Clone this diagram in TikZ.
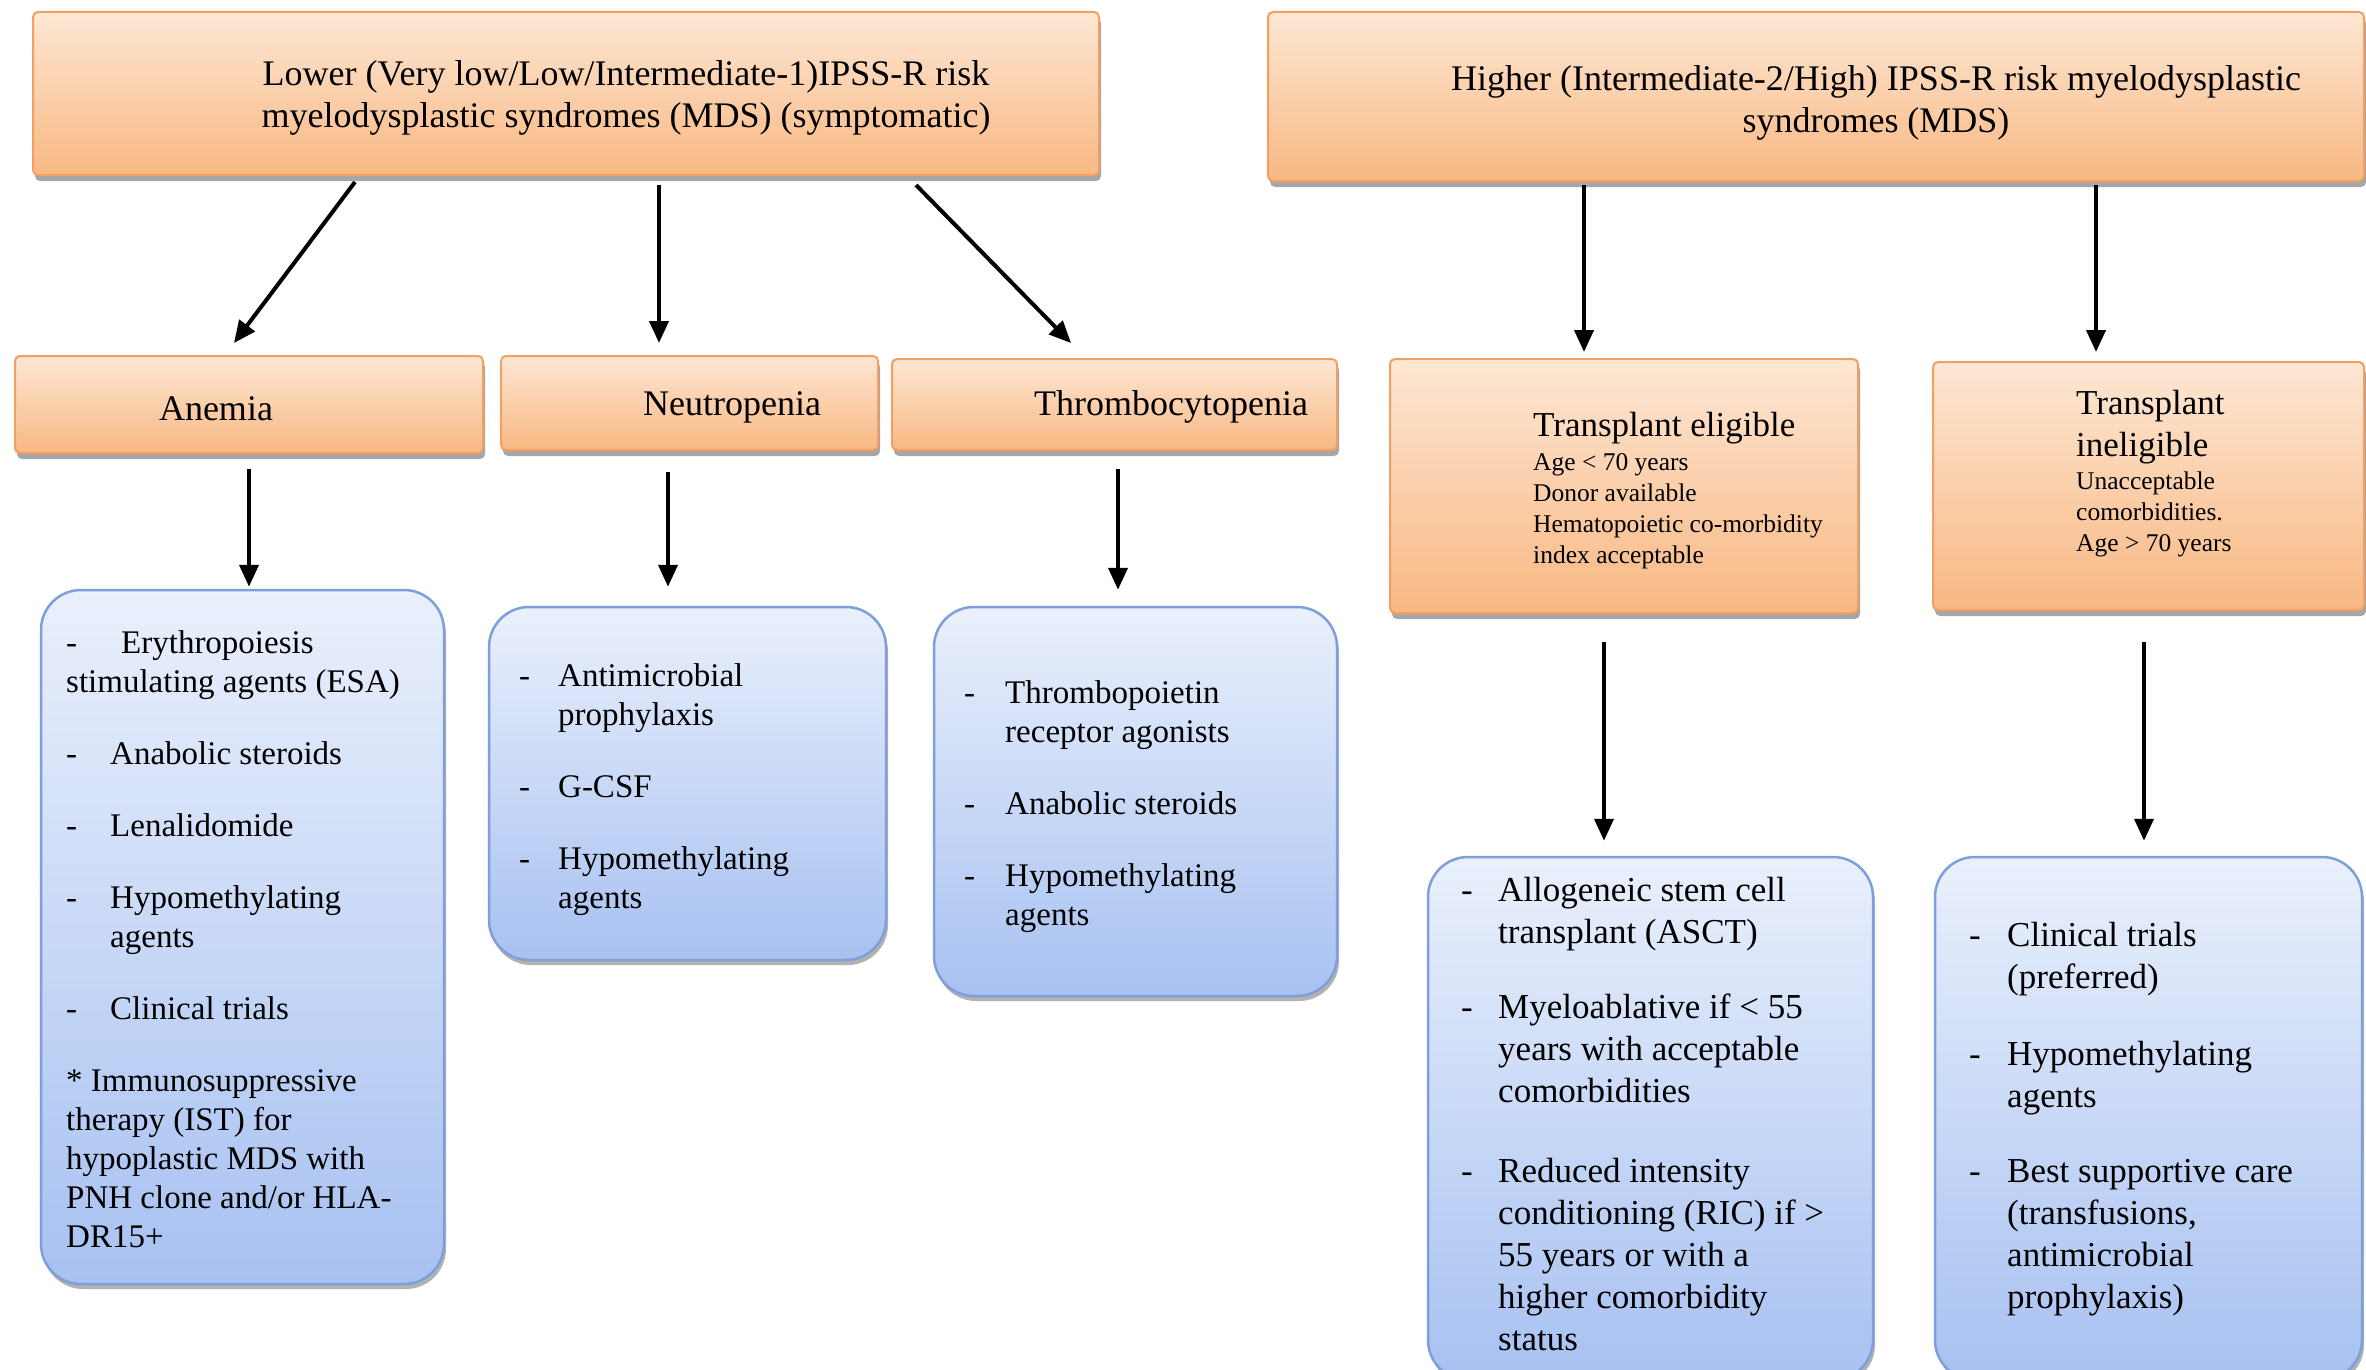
\documentclass[tikz,border=0pt]{standalone}
\usepackage{fontspec}
\setmainfont{Liberation Serif}
\usetikzlibrary{arrows.meta,shadows,calc}
\definecolor{oTop}{HTML}{FDE7D4}
\definecolor{oBot}{HTML}{F8B883}
\definecolor{oDraw}{HTML}{F0A062}
\definecolor{bTop}{HTML}{EAF0FC}
\definecolor{bBot}{HTML}{A7C1F1}
\definecolor{bDraw}{HTML}{7F9FD9}
\newcommand{\dsh}[1]{\makebox[#1][l]{-}}
\begin{document}
\begin{tikzpicture}[x=1pt,y=-1pt,
  obox/.style={draw=oDraw, line width=2pt, rounded corners=5pt, top color=oTop, bottom color=oBot, inner sep=0pt,
    drop shadow={shadow xshift=2pt,shadow yshift=-6pt,opacity=0.35,fill=black}},
  bbox/.style={draw=bDraw, line width=2.5pt, rounded corners=40pt, top color=bTop, bottom color=bBot, inner sep=0pt,
    drop shadow={shadow xshift=2pt,shadow yshift=-5pt,opacity=0.3,fill=black}},
  arr/.style={line width=4pt, -{Triangle[length=22pt,width=19pt]}},
  big/.style={font=\fontsize{36}{42}\selectfont, inner sep=0pt},
  lst/.style={font=\fontsize{33}{39}\selectfont, inner sep=0pt, align=left, anchor=north west},
  lstr/.style={font=\fontsize{35}{42}\selectfont, inner sep=0pt, align=left, anchor=north west},
  small/.style={font=\fontsize{25.5}{31}\selectfont, inner sep=0pt, align=left, anchor=north west}
]
\fill[white] (0,0) rectangle (2366,1370);
\useasboundingbox (0,0) rectangle (2366,1370);

% orange boxes
\node[obox, minimum width=1066pt, minimum height=163pt] (tl) at (566,93.5) {};
\node[obox, minimum width=1096pt, minimum height=169pt] (tr) at (1816,96.5) {};
\node[obox, minimum width=468pt, minimum height=97pt] (an) at (249,404.5) {};
\node[obox, minimum width=377pt, minimum height=94pt] (ne) at (689.5,403) {};
\node[obox, minimum width=445pt, minimum height=91pt] (th) at (1114.5,404.5) {};
\node[obox, minimum width=468pt, minimum height=254pt] (te) at (1624,486) {};
\node[obox, minimum width=431pt, minimum height=248pt] (ti) at (2148.5,486) {};

% blue boxes
\node[bbox, minimum width=403pt, minimum height=694pt] (anl) at (242.5,937) {};
\node[bbox, minimum width=397pt, minimum height=353pt] (nel) at (687.5,783.5) {};
\node[bbox, minimum width=403pt, minimum height=389pt] (thl) at (1135.5,801.5) {};
\node[bbox, minimum width=445pt, minimum height=523pt] (tel) at (1650.5,1118.5) {};
\node[bbox, minimum width=427pt, minimum height=523pt] (til) at (2148.5,1118.5) {};

% texts in orange boxes
\node[big, align=center] (tlt) at (626,98) {Lower (Very low/Low/Intermediate-1)IPSS-R risk\\myelodysplastic syndromes (MDS) (symptomatic)};
\node[big, align=center] (trt) at (1876,103) {Higher (Intermediate-2/High) IPSS-R risk myelodysplastic\\syndromes (MDS)};
\node[big] (ant) at (216,409) {Anemia};
\node[big] (net) at (732,407) {Neutropenia};
\node[big] (tht) at (1171,407) {Thrombocytopenia};
\node[big, font=\fontsize{35}{42}\selectfont, anchor=west] (tet) at (1533,428) {Transplant eligible};
\node[small] (ted) at (1533,453) {Age < 70 years\\Donor available\\Hematopoietic co-morbidity\\index acceptable};
\node[big, font=\fontsize{35}{42}\selectfont, align=left, anchor=north west] (tit) at (2076,390) {Transplant\\ineligible};
\node[small] (tid) at (2076,472) {Unacceptable\\comorbidities.\\Age > 70 years};

% list texts
\node[lst] (anlt) at (66,630) {\dsh{55pt}Erythropoiesis\\stimulating agents (ESA)\\[33pt]
\dsh{44pt}Anabolic steroids\\[33pt]
\dsh{44pt}Lenalidomide\\[33pt]
\dsh{44pt}Hypomethylating\\\hspace*{44pt}agents\\[33pt]
\dsh{44pt}Clinical trials\\[33pt]
* Immunosuppressive\\therapy (IST) for\\hypoplastic MDS with\\PNH clone and/or HLA-\\DR15+};
\node[lst] (nelt) at (519,663) {\dsh{39pt}Antimicrobial\\\hspace*{39pt}prophylaxis\\[33pt]
\dsh{39pt}G-CSF\\[33pt]
\dsh{39pt}Hypomethylating\\\hspace*{39pt}agents};
\node[lst] (thlt) at (964,680) {\dsh{41pt}Thrombopoietin\\\hspace*{41pt}receptor agonists\\[33pt]
\dsh{41pt}Anabolic steroids\\[33pt]
\dsh{41pt}Hypomethylating\\\hspace*{41pt}agents};
\node[lstr] (telt) at (1461,877) {\dsh{37pt}Allogeneic stem cell\\\hspace*{37pt}transplant (ASCT)\\[33pt]
\dsh{37pt}Myeloablative if < 55\\\hspace*{37pt}years with acceptable\\\hspace*{37pt}comorbidities\\[38pt]
\dsh{37pt}Reduced intensity\\\hspace*{37pt}conditioning (RIC) if >\\\hspace*{37pt}55 years or with a\\\hspace*{37pt}higher comorbidity\\\hspace*{37pt}status};
\node[lstr] (tilt) at (1969,922) {\dsh{38pt}Clinical trials\\\hspace*{38pt}(preferred)\\[35pt]
\dsh{38pt}Hypomethylating\\\hspace*{38pt}agents\\[33pt]
\dsh{38pt}Best supportive care\\\hspace*{38pt}(transfusions,\\\hspace*{38pt}antimicrobial\\\hspace*{38pt}prophylaxis)};

% arrows
\draw[arr] ($(tl.south)+(-211,6)$) -- ($(an.north)+(-15,-12)$);
\draw[arr] ($(tl.south)+(93,9)$) -- ($(ne.north)+(-30.5,-12)$);
\draw[arr] ($(tl.south)+(350,9)$) -- ($(th.north)+(-43.5,-15)$);
\draw[arr] ($(tr.south)+(-232,3)$) -- ($(te.north)+(-40,-6)$);
\draw[arr] ($(tr.south)+(280,3)$) -- ($(ti.north)+(-52.5,-9)$);
\draw[arr] ($(an.south)+(0,15)$) -- ($(anl.north)+(6.5,-2)$);
\draw[arr] ($(ne.south)+(-21.5,21)$) -- ($(nel.north)+(-19.5,-19)$);
\draw[arr] ($(th.south)+(3.5,18)$) -- ($(thl.north)+(-17.5,-16)$);
\draw[arr] ($(te.south)+(-20,28)$) -- ($(tel.north)+(-46.5,-15)$);
\draw[arr] ($(ti.south)+(-4.5,31)$) -- ($(til.north)+(-4.5,-15)$);
\end{tikzpicture}
\end{document}
